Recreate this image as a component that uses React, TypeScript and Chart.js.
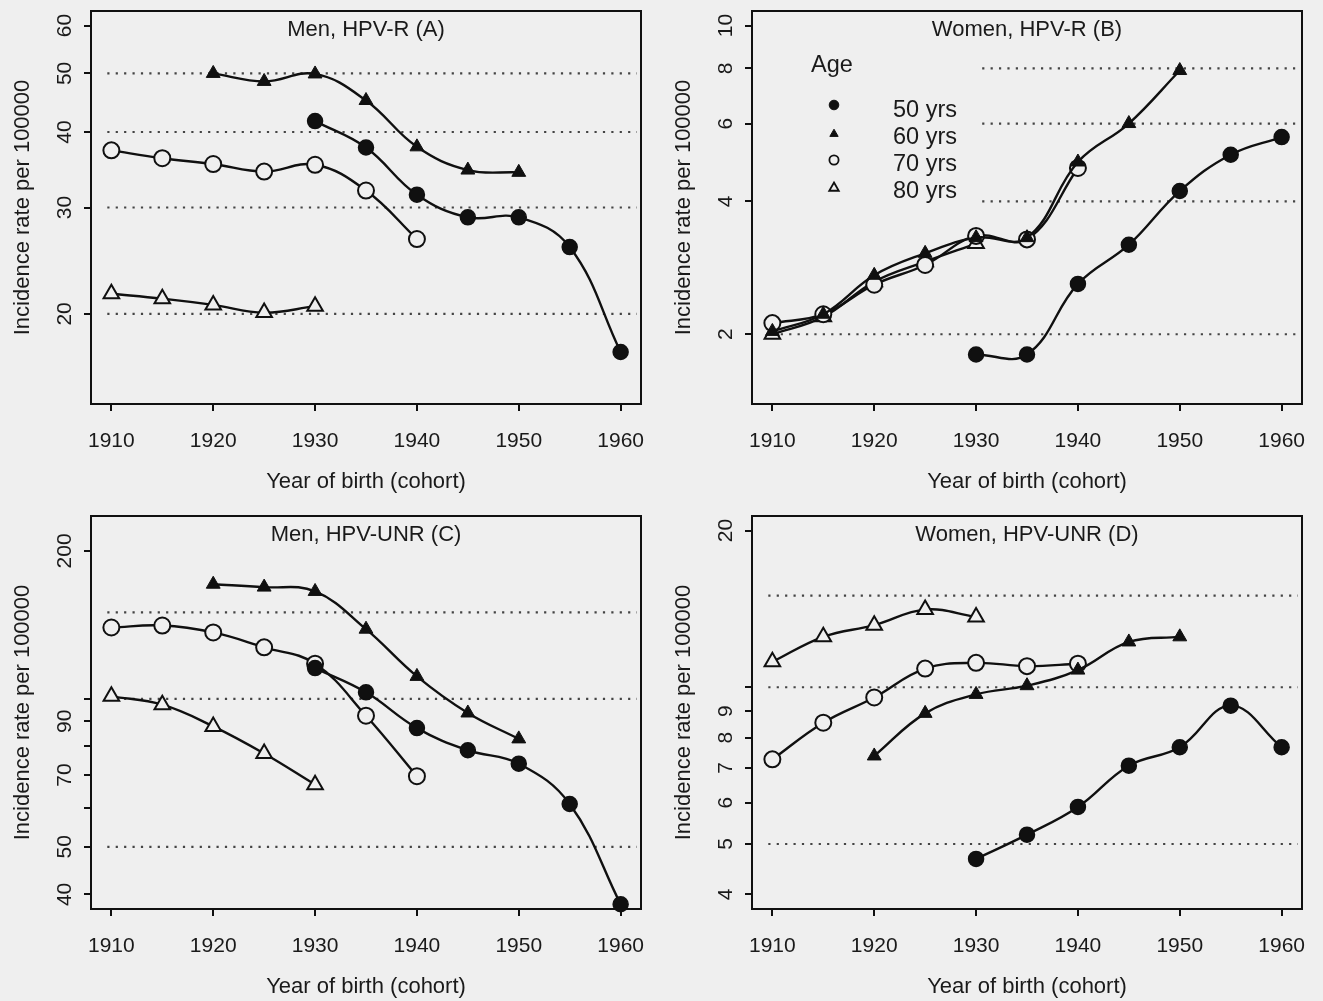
import React, { useEffect, useRef } from "react";
import { Chart, registerables } from "chart.js";

Chart.register(...registerables);

// ---------- data ----------
const years = [1910, 1915, 1920, 1925, 1930, 1935, 1940, 1945, 1950, 1955, 1960];
const xTicks = [1910, 1920, 1930, 1940, 1950, 1960];
const xLimits = [1910, 1960];
const ageLabels = ["50 yrs", "60 yrs", "70 yrs", "80 yrs"];

// Panel A: Men, HPV-R
const menR50 = [null, null, null, null, 41.7, 37.7, 31.5, 28.9, 28.9, 25.8, 17.3];
const menR60 = [null, null, 50.0, 48.5, 49.9, 45.1, 37.8, 34.6, 34.3, null, null];
const menR70 = [37.3, 36.2, 35.4, 34.4, 35.3, 32.0, 26.6, null, null, null, null];
const menR80 = [21.6, 21.2, 20.7, 20.1, 20.6, null, null, null, null, null, null];
const menRLimits = [15, 60];
const menRTicks = [20, 30, 40, 50, 60];
const menRTickLabels = [20, 30, 40, 50, 60];
const menRRefLines = [20, 30, 40, 50];
const menRRefStart = [1909.6, 1909.6, 1909.6, 1909.6];

// Panel B: Women, HPV-R
const womenR50 = [null, null, null, null, 1.80, 1.80, 2.60, 3.19, 4.22, 5.10, 5.59];
const womenR60 = [2.03, 2.22, 2.72, 3.05, 3.31, 3.31, 4.91, 6.0, 7.91, null, null];
const womenR70 = [2.12, 2.22, 2.59, 2.87, 3.34, 3.28, 4.76, null, null, null, null];
const womenR80 = [2.0, 2.19, 2.63, 2.92, 3.21, null, null, null, null, null, null];
const womenRLimits = [1.5, 10];
const womenRTicks = [2, 4, 6, 8, 10];
const womenRTickLabels = [2, 4, 6, 8, 10];
const womenRRefLines = [2, 4, 6, 8];
const womenRRefStart = [1910.0, 1930.6, 1930.6, 1930.6];

// Panel C: Men, HPV-UNR
const menU50 = [null, null, null, null, 115.5, 103.1, 87.2, 78.6, 73.8, 61.1, 38.2];
const menU60 = [null, null, 171.1, 168.8, 165.4, 138.6, 111.1, 93.6, 82.9, null, null];
const menU70 = [139.7, 141.0, 136.5, 127.3, 117.9, 92.4, 69.6, null, null, null, null];
const menU80 = [101.2, 97.3, 87.9, 77.4, 66.9, null, null, null, null, null, null];
const menULimits = [40, 220];
const menUTicks = [40, 50, 60, 70, 80, 90, 100, 200];
const menUTickLabels = [40, 50, 70, 90, 200];
const menURefLines = [50, 100, 150];
const menURefStart = [1909.6, 1909.6, 1909.6];

// Panel D: Women, HPV-UNR
const womenU50 = [null, null, null, null, 4.68, 5.21, 5.89, 7.07, 7.67, 9.22, 7.67];
const womenU60 = [null, null, 7.38, 8.91, 9.69, 10.07, 10.79, 12.22, 12.5, null, null];
const womenU70 = [7.27, 8.55, 9.56, 10.86, 11.14, 10.98, 11.1, null, null, null, null];
const womenU80 = [11.19, 12.5, 13.16, 14.1, 13.65, null, null, null, null, null, null];
const womenULimits = [4, 20];
const womenUTicks = [4, 5, 6, 7, 8, 9, 10, 20];
const womenUTickLabels = [4, 5, 6, 7, 8, 9, 20];
const womenURefLines = [5, 10, 15];
const womenURefStart = [1909.6, 1909.6, 1909.6];

const refLineEnd = 1961.6;

// ---------- styling ----------
const BG = "#efefef";
const INK = "#101010";
const TEXT = "#1a1a1a";
const DOT = "#444444";
const FONT = '"Liberation Sans", Arial, Helvetica, sans-serif';

type PanelDef = {
  title: string;
  series: (number | null)[][];
  limits: number[];
  ticks: number[];
  tickLabels: number[];
  refLines: number[];
  refStart: number[];
  legend: boolean;
};

const panels: PanelDef[] = [
  { title: "Men, HPV-R (A)", series: [menR50, menR60, menR70, menR80], limits: menRLimits, ticks: menRTicks, tickLabels: menRTickLabels, refLines: menRRefLines, refStart: menRRefStart, legend: false },
  { title: "Women, HPV-R (B)", series: [womenR50, womenR60, womenR70, womenR80], limits: womenRLimits, ticks: womenRTicks, tickLabels: womenRTickLabels, refLines: womenRRefLines, refStart: womenRRefStart, legend: true },
  { title: "Men, HPV-UNR (C)", series: [menU50, menU60, menU70, menU80], limits: menULimits, ticks: menUTicks, tickLabels: menUTickLabels, refLines: menURefLines, refStart: menURefStart, legend: false },
  { title: "Women, HPV-UNR (D)", series: [womenU50, womenU60, womenU70, womenU80], limits: womenULimits, ticks: womenUTicks, tickLabels: womenUTickLabels, refLines: womenURefLines, refStart: womenURefStart, legend: false },
];

// marker styles per age group: filled circle, filled triangle, open circle, open triangle
const markerStyle = [
  { shape: "circle", filled: true, r: 7.5, bw: 1.5 },
  { shape: "triangle", filled: true, r: 8, bw: 1 },
  { shape: "circle", filled: false, r: 8, bw: 2 },
  { shape: "triangle", filled: false, r: 9, bw: 2 },
];

// R-style axis extension (4% each side, in log space for log axes)
const extendLinear = (lim: number[]) => {
  const d = (lim[1] - lim[0]) * 0.04;
  return [lim[0] - d, lim[1] + d];
};
const extendLog = (lim: number[]) => {
  const a = Math.log10(lim[0]);
  const b = Math.log10(lim[1]);
  const d = (b - a) * 0.04;
  return [Math.pow(10, a - d), Math.pow(10, b + d)];
};

function drawMarker(ctx: CanvasRenderingContext2D, shape: string, filled: boolean, x: number, y: number, r: number, lw: number) {
  ctx.beginPath();
  if (shape === "circle") {
    ctx.arc(x, y, r, 0, Math.PI * 2);
  } else {
    ctx.moveTo(x, y - r);
    ctx.lineTo(x + 0.866 * r, y + 0.5 * r);
    ctx.lineTo(x - 0.866 * r, y + 0.5 * r);
    ctx.closePath();
  }
  ctx.fillStyle = filled ? INK : BG;
  ctx.fill();
  ctx.lineWidth = lw;
  ctx.strokeStyle = INK;
  ctx.stroke();
}

function makeDecor(p: PanelDef) {
  return {
    id: "panelDecor",
    beforeDatasetsDraw(chart: any) {
      const { ctx, chartArea: a } = chart;
      ctx.save();
      ctx.strokeStyle = INK;
      ctx.lineWidth = 2;
      ctx.strokeRect(a.left, a.top, a.right - a.left, a.bottom - a.top);
      ctx.restore();
    },
    afterDraw(chart: any) {
      const { ctx, chartArea: a, scales } = chart;
      const ys = scales.y;
      ctx.save();
      ctx.fillStyle = TEXT;
      // rotated y tick labels (R las=0 style)
      ctx.font = `21px ${FONT}`;
      ctx.textAlign = "center";
      ctx.textBaseline = "alphabetic";
      p.tickLabels.forEach((v) => {
        const py = ys.getPixelForValue(v);
        ctx.save();
        ctx.translate(a.left - 20.5, py);
        ctx.rotate(-Math.PI / 2);
        ctx.fillText(String(v), 0, 0);
        ctx.restore();
      });
      // panel title
      ctx.font = `22px ${FONT}`;
      ctx.textAlign = "center";
      ctx.fillText(p.title, (a.left + a.right) / 2, a.top + 24.5);
      // legend
      if (p.legend) {
        ctx.textAlign = "left";
        ctx.font = `23.5px ${FONT}`;
        ctx.fillText("Age", a.left + 59, 71.5);
        const symX = a.left + 82;
        const textX = a.left + 141;
        const symY = [105, 134, 160, 188];
        const textY = [117.3, 144.2, 171, 198.3];
        const legR = [4.8, 4.8, 4.6, 5.5];
        const legW = [1, 1, 1.8, 1.8];
        ageLabels.forEach((lab, i) => {
          const m = markerStyle[i];
          drawMarker(ctx, m.shape, m.filled, symX, symY[i], legR[i], legW[i]);
          ctx.fillStyle = TEXT;
          ctx.fillText(lab, textX, textY[i]);
        });
      }
      ctx.restore();
    },
  };
}

function buildConfig(p: PanelDef): any {
  const yRange = extendLog(p.limits);
  const xRange = extendLinear(xLimits);
  const refSets = p.refLines.map((v, i) => ({
    label: "ref" + v,
    data: [
      { x: p.refStart[i], y: v },
      { x: refLineEnd, y: v },
    ],
    borderColor: DOT,
    borderWidth: 2.2,
    borderDash: [2.2, 6.2],
    borderCapStyle: "butt",
    pointRadius: 0,
    tension: 0,
    order: 10,
    clip: false,
  }));
  const seriesSets = p.series.map((s, i) => {
    const m = markerStyle[i];
    return {
      label: ageLabels[i],
      data: years
        .map((yr, j) => ({ x: yr, y: s[j] }))
        .filter((pt) => pt.y !== null),
      borderColor: INK,
      borderWidth: 2.4,
      tension: 0.4,
      pointStyle: m.shape,
      pointRadius: m.r,
      pointBorderWidth: m.bw,
      pointBackgroundColor: m.filled ? INK : BG,
      pointBorderColor: INK,
      order: i,
      clip: false,
    };
  });
  return {
    type: "line",
    data: { datasets: [...refSets, ...seriesSets] },
    options: {
      animation: false,
      responsive: false,
      events: [],
      layout: { padding: { left: 0, right: 20, top: 10, bottom: 0 } },
      plugins: { legend: { display: false }, tooltip: { enabled: false } },
      scales: {
        x: {
          type: "linear",
          bounds: "data",
          min: xRange[0],
          max: xRange[1],
          afterBuildTicks: (scale: any) => {
            scale.ticks = xTicks.map((v) => ({ value: v }));
          },
          afterFit: (scale: any) => {
            scale.height = 91;
            scale.paddingLeft = 0;
            scale.paddingRight = 0;
          },
          border: { display: false },
          grid: {
            drawOnChartArea: false,
            drawTicks: true,
            tickLength: 7,
            color: INK,
            lineWidth: 2,
          },
          ticks: {
            callback: (v: any) => String(v),
            color: TEXT,
            font: { family: FONT, size: 21 },
            padding: 18,
            maxRotation: 0,
            autoSkip: false,
          },
          title: {
            display: true,
            text: "Year of birth (cohort)",
            color: TEXT,
            font: { family: FONT, size: 22 },
            padding: { top: 0, bottom: 0 },
          },
        },
        y: {
          type: "logarithmic",
          bounds: "data",
          min: yRange[0],
          max: yRange[1],
          afterBuildTicks: (scale: any) => {
            scale.ticks = p.ticks.map((v) => ({ value: v }));
          },
          afterFit: (scale: any) => {
            scale.width = 91;
          },
          border: { display: false },
          grid: {
            drawOnChartArea: false,
            drawTicks: true,
            tickLength: 7,
            color: INK,
            lineWidth: 2,
          },
          ticks: { display: false },
          title: {
            display: true,
            text: "Incidence rate per 100000",
            color: TEXT,
            font: { family: FONT, size: 22 },
            padding: { top: 10, bottom: 0 },
          },
        },
      },
    },
    plugins: [makeDecor(p)],
  };
}

function Panel({ def, left, top }: { def: PanelDef; left: number; top: number }) {
  const ref = useRef<HTMLCanvasElement | null>(null);
  useEffect(() => {
    if (!ref.current) return;
    const chart = new Chart(ref.current, buildConfig(def));
    return () => chart.destroy();
  }, [def]);
  return (
    <canvas
      ref={ref}
      width={661}
      height={495}
      style={{ position: "absolute", left, top, width: 661, height: 495, display: "block" }}
    />
  );
}

export default function App() {
  const pos = [
    [0, 0],
    [661, 0],
    [0, 505],
    [661, 505],
  ];
  return (
    <div
      style={{
        position: "absolute",
        left: 0,
        top: 0,
        width: 1323,
        height: 1001,
        background: BG,
        overflow: "hidden",
      }}
    >
      {panels.map((p, i) => (
        <Panel key={p.title} def={p} left={pos[i][0]} top={pos[i][1]} />
      ))}
    </div>
  );
}
